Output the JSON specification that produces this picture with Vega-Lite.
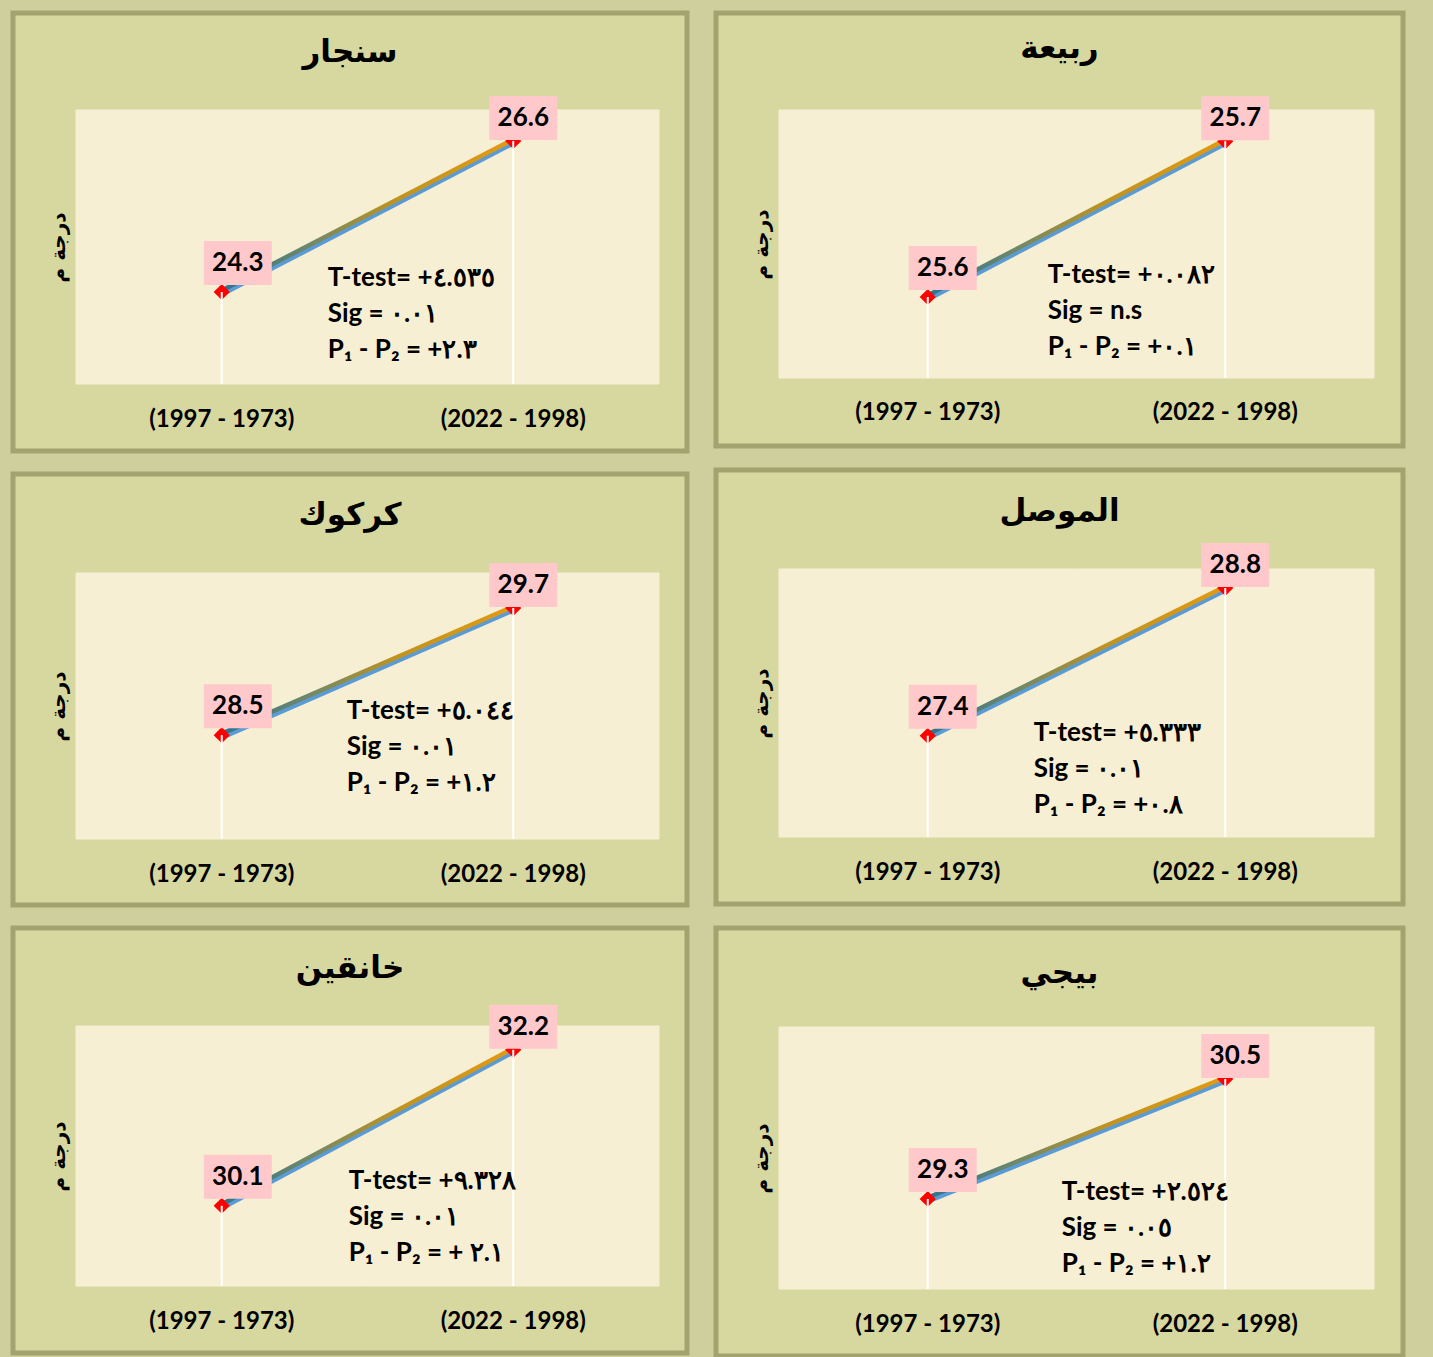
{
  "$schema": "https://vega.github.io/schema/vega-lite/v6.json",
  "background": "#CFCF9E",
  "padding": {"left": 10, "top": 10, "right": 30, "bottom": 0},
  "spacing": 23,
  "datasets": {
    "temps": [
      {"station": "سنجار", "period": "(1997 - 1973)", "temp": 24.3},
      {"station": "سنجار", "period": "(2022 - 1998)", "temp": 26.6},
      {"station": "ربيعة", "period": "(1997 - 1973)", "temp": 25.6},
      {"station": "ربيعة", "period": "(2022 - 1998)", "temp": 25.7},
      {"station": "كركوك", "period": "(1997 - 1973)", "temp": 28.5},
      {"station": "كركوك", "period": "(2022 - 1998)", "temp": 29.7},
      {"station": "الموصل", "period": "(1997 - 1973)", "temp": 27.4},
      {"station": "الموصل", "period": "(2022 - 1998)", "temp": 28.8},
      {"station": "خانقين", "period": "(1997 - 1973)", "temp": 30.1},
      {"station": "خانقين", "period": "(2022 - 1998)", "temp": 32.2},
      {"station": "بيجي", "period": "(1997 - 1973)", "temp": 29.3},
      {"station": "بيجي", "period": "(2022 - 1998)", "temp": 30.5}
    ],
    "notes": [
      {"station": "سنجار", "note": "T-test= +٤.٥٣٥\nSig = ٠.٠١\nP₁ - P₂ = +٢.٣"},
      {"station": "ربيعة", "note": "T-test=  +٠.٠٨٢\nSig = n.s\nP₁ - P₂ =  +٠.١"},
      {"station": "كركوك", "note": "T-test= +٥.٠٤٤\nSig = ٠.٠١\nP₁ - P₂ =  +١.٢"},
      {"station": "الموصل", "note": "T-test= +٥.٣٣٣\nSig = ٠.٠١\nP₁ - P₂ =  +٠.٨"},
      {"station": "خانقين", "note": "T-test=  +٩.٣٢٨\nSig = ٠.٠١\nP₁ - P₂ = + ٢.١"},
      {"station": "بيجي", "note": "T-test=  +٢.٥٢٤\nSig = ٠.٠٥\nP₁ - P₂ =  +١.٢"}
    ]
  },
  "hconcat": [
    {
      "spacing": 17,
      "vconcat": [
        {
          "width": 674, "height": 438,
          "title": {"text": "سنجار", "offset": -56},
          "data": {"name": "temps"},
          "transform": [{"filter": "datum.station == 'سنجار'"}],
          "encoding": {
            "x": {"field": "period", "type": "nominal", "sort": null, "scale": {"type": "band", "range": [63, 646], "paddingInner": 0, "paddingOuter": 0}, "axis": {"orient": "bottom", "offset": -67, "labelPadding": 35, "title": null}},
            "y": {"field": "temp", "type": "quantitative", "scale": {"domain": [22.9, 27.07], "range": [371, 97], "nice": false, "zero": false}, "axis": {"orient": "left", "offset": -63, "title": "درجة م"}}
          },
          "layer": [
            {"mark": {"type": "rect", "color": "#F7EFD3", "stroke": "#F7EFD3", "strokeWidth": 1}, "encoding": {"y": {"datum": 22.9}, "y2": {"datum": 27.07}}},
            {"mark": {"type": "line", "color": "#5B9BD5", "strokeWidth": 4.5, "yOffset": 2.5}},
            {"mark": {"type": "line", "strokeWidth": 4.5, "yOffset": -1.5, "stroke": {"gradient": "linear", "x1": 0, "y1": 0, "x2": 1, "y2": 0, "stops": [{"offset": 0, "color": "#2E7390"}, {"offset": 0.3, "color": "#6F8868"}, {"offset": 0.6, "color": "#C0931F"}, {"offset": 1, "color": "#E39A10"}]}}},
            {"mark": {"type": "point", "shape": "diamond", "filled": true, "color": "#FF0000", "size": 260, "opacity": 1}},
            {"mark": {"type": "rule", "color": "white", "strokeWidth": 2}, "encoding": {"y2": {"datum": 22.9}}},
            {"transform": [{"filter": "datum.period == '(1997 - 1973)'"}], "layer": [
              {"mark": {"type": "point", "shape": "M-1,-0.647L1,-0.647L1,0.647L-1,0.647Z", "size": 4624, "filled": true, "color": "#FFC9CC", "opacity": 1, "xOffset": 16, "yOffset": -29}},
              {"mark": {"type": "text", "font": "Lato", "fontSize": 26, "fontWeight": "bold", "color": "black", "xOffset": 16, "yOffset": -29}, "encoding": {"text": {"field": "temp", "type": "quantitative", "format": ".1f"}}},
              {"transform": [{"lookup": "station", "from": {"data": {"name": "notes"}, "key": "station", "fields": ["note"]}}],
               "mark": {"type": "text", "font": "Lato", "fontSize": 26, "fontWeight": "bold", "color": "black", "align": "left", "baseline": "middle", "lineHeight": 36, "lineBreak": "\n", "dx": 106},
               "encoding": {"y": {"datum": 24.513}, "text": {"field": "note", "type": "nominal"}}}
            ]},
            {"transform": [{"filter": "datum.period == '(2022 - 1998)'"}], "layer": [
              {"mark": {"type": "point", "shape": "M-1,-0.647L1,-0.647L1,0.647L-1,0.647Z", "size": 4624, "filled": true, "color": "#FFC9CC", "opacity": 1, "xOffset": 10, "yOffset": -23}},
              {"mark": {"type": "text", "font": "Lato", "fontSize": 26, "fontWeight": "bold", "color": "black", "xOffset": 10, "yOffset": -23}, "encoding": {"text": {"field": "temp", "type": "quantitative", "format": ".1f"}}}
            ]}
          ]
        },
        {
          "width": 674, "height": 431,
          "title": {"text": "كركوك", "offset": -58},
          "data": {"name": "temps"},
          "transform": [{"filter": "datum.station == 'كركوك'"}],
          "encoding": {
            "x": {"field": "period", "type": "nominal", "sort": null, "scale": {"type": "band", "range": [63, 646], "paddingInner": 0, "paddingOuter": 0}, "axis": {"orient": "bottom", "offset": -66, "labelPadding": 35, "title": null}},
            "y": {"field": "temp", "type": "quantitative", "scale": {"domain": [27.52, 30.03], "range": [365, 99], "nice": false, "zero": false}, "axis": {"orient": "left", "offset": -63, "title": "درجة م"}}
          },
          "layer": [
            {"mark": {"type": "rect", "color": "#F7EFD3", "stroke": "#F7EFD3", "strokeWidth": 1}, "encoding": {"y": {"datum": 27.52}, "y2": {"datum": 30.03}}},
            {"mark": {"type": "line", "color": "#5B9BD5", "strokeWidth": 4.5, "yOffset": 2.5}},
            {"mark": {"type": "line", "strokeWidth": 4.5, "yOffset": -1.5, "stroke": {"gradient": "linear", "x1": 0, "y1": 0, "x2": 1, "y2": 0, "stops": [{"offset": 0, "color": "#2E7390"}, {"offset": 0.3, "color": "#6F8868"}, {"offset": 0.6, "color": "#C0931F"}, {"offset": 1, "color": "#E39A10"}]}}},
            {"mark": {"type": "point", "shape": "diamond", "filled": true, "color": "#FF0000", "size": 260, "opacity": 1}},
            {"mark": {"type": "rule", "color": "white", "strokeWidth": 2}, "encoding": {"y2": {"datum": 27.52}}},
            {"transform": [{"filter": "datum.period == '(1997 - 1973)'"}], "layer": [
              {"mark": {"type": "point", "shape": "M-1,-0.647L1,-0.647L1,0.647L-1,0.647Z", "size": 4624, "filled": true, "color": "#FFC9CC", "opacity": 1, "xOffset": 16, "yOffset": -29}},
              {"mark": {"type": "text", "font": "Lato", "fontSize": 26, "fontWeight": "bold", "color": "black", "xOffset": 16, "yOffset": -29}, "encoding": {"text": {"field": "temp", "type": "quantitative", "format": ".1f"}}},
              {"transform": [{"lookup": "station", "from": {"data": {"name": "notes"}, "key": "station", "fields": ["note"]}}],
               "mark": {"type": "text", "font": "Lato", "fontSize": 26, "fontWeight": "bold", "color": "black", "align": "left", "baseline": "middle", "lineHeight": 36, "lineBreak": "\n", "dx": 125},
               "encoding": {"y": {"datum": 28.727}, "text": {"field": "note", "type": "nominal"}}}
            ]},
            {"transform": [{"filter": "datum.period == '(2022 - 1998)'"}], "layer": [
              {"mark": {"type": "point", "shape": "M-1,-0.647L1,-0.647L1,0.647L-1,0.647Z", "size": 4624, "filled": true, "color": "#FFC9CC", "opacity": 1, "xOffset": 10, "yOffset": -23}},
              {"mark": {"type": "text", "font": "Lato", "fontSize": 26, "fontWeight": "bold", "color": "black", "xOffset": 10, "yOffset": -23}, "encoding": {"text": {"field": "temp", "type": "quantitative", "format": ".1f"}}}
            ]}
          ]
        },
        {
          "width": 674, "height": 425,
          "title": {"text": "خانقين", "offset": -57},
          "data": {"name": "temps"},
          "transform": [{"filter": "datum.station == 'خانقين'"}],
          "encoding": {
            "x": {"field": "period", "type": "nominal", "sort": null, "scale": {"type": "band", "range": [63, 646], "paddingInner": 0, "paddingOuter": 0}, "axis": {"orient": "bottom", "offset": -67, "labelPadding": 35, "title": null}},
            "y": {"field": "temp", "type": "quantitative", "scale": {"domain": [29.02, 32.52], "range": [358, 98], "nice": false, "zero": false}, "axis": {"orient": "left", "offset": -63, "title": "درجة م"}}
          },
          "layer": [
            {"mark": {"type": "rect", "color": "#F7EFD3", "stroke": "#F7EFD3", "strokeWidth": 1}, "encoding": {"y": {"datum": 29.02}, "y2": {"datum": 32.52}}},
            {"mark": {"type": "line", "color": "#5B9BD5", "strokeWidth": 4.5, "yOffset": 2.5}},
            {"mark": {"type": "line", "strokeWidth": 4.5, "yOffset": -1.5, "stroke": {"gradient": "linear", "x1": 0, "y1": 0, "x2": 1, "y2": 0, "stops": [{"offset": 0, "color": "#2E7390"}, {"offset": 0.3, "color": "#6F8868"}, {"offset": 0.6, "color": "#C0931F"}, {"offset": 1, "color": "#E39A10"}]}}},
            {"mark": {"type": "point", "shape": "diamond", "filled": true, "color": "#FF0000", "size": 260, "opacity": 1}},
            {"mark": {"type": "rule", "color": "white", "strokeWidth": 2}, "encoding": {"y2": {"datum": 29.02}}},
            {"transform": [{"filter": "datum.period == '(1997 - 1973)'"}], "layer": [
              {"mark": {"type": "point", "shape": "M-1,-0.647L1,-0.647L1,0.647L-1,0.647Z", "size": 4624, "filled": true, "color": "#FFC9CC", "opacity": 1, "xOffset": 16, "yOffset": -29}},
              {"mark": {"type": "text", "font": "Lato", "fontSize": 26, "fontWeight": "bold", "color": "black", "xOffset": 16, "yOffset": -29}, "encoding": {"text": {"field": "temp", "type": "quantitative", "format": ".1f"}}},
              {"transform": [{"lookup": "station", "from": {"data": {"name": "notes"}, "key": "station", "fields": ["note"]}}],
               "mark": {"type": "text", "font": "Lato", "fontSize": 26, "fontWeight": "bold", "color": "black", "align": "left", "baseline": "middle", "lineHeight": 36, "lineBreak": "\n", "dx": 127},
               "encoding": {"y": {"datum": 30.436}, "text": {"field": "note", "type": "nominal"}}}
            ]},
            {"transform": [{"filter": "datum.period == '(2022 - 1998)'"}], "layer": [
              {"mark": {"type": "point", "shape": "M-1,-0.647L1,-0.647L1,0.647L-1,0.647Z", "size": 4624, "filled": true, "color": "#FFC9CC", "opacity": 1, "xOffset": 10, "yOffset": -23}},
              {"mark": {"type": "text", "font": "Lato", "fontSize": 26, "fontWeight": "bold", "color": "black", "xOffset": 10, "yOffset": -23}, "encoding": {"text": {"field": "temp", "type": "quantitative", "format": ".1f"}}}
            ]}
          ]
        }
      ]
    },
    {
      "spacing": 18,
      "vconcat": [
        {
          "width": 687, "height": 433,
          "title": {"text": "ربيعة", "offset": -52},
          "data": {"name": "temps"},
          "transform": [{"filter": "datum.station == 'ربيعة'"}],
          "encoding": {
            "x": {"field": "period", "type": "nominal", "sort": null, "scale": {"type": "band", "range": [63, 658], "paddingInner": 0, "paddingOuter": 0}, "axis": {"orient": "bottom", "offset": -68, "labelPadding": 34, "title": null}},
            "y": {"field": "temp", "type": "quantitative", "scale": {"domain": [25.548, 25.72], "range": [365, 97], "nice": false, "zero": false}, "axis": {"orient": "left", "offset": -63, "title": "درجة م"}}
          },
          "layer": [
            {"mark": {"type": "rect", "color": "#F7EFD3", "stroke": "#F7EFD3", "strokeWidth": 1}, "encoding": {"y": {"datum": 25.548}, "y2": {"datum": 25.72}}},
            {"mark": {"type": "line", "color": "#5B9BD5", "strokeWidth": 4.5, "yOffset": 2.5}},
            {"mark": {"type": "line", "strokeWidth": 4.5, "yOffset": -1.5, "stroke": {"gradient": "linear", "x1": 0, "y1": 0, "x2": 1, "y2": 0, "stops": [{"offset": 0, "color": "#2E7390"}, {"offset": 0.3, "color": "#6F8868"}, {"offset": 0.6, "color": "#C0931F"}, {"offset": 1, "color": "#E39A10"}]}}},
            {"mark": {"type": "point", "shape": "diamond", "filled": true, "color": "#FF0000", "size": 260, "opacity": 1}},
            {"mark": {"type": "rule", "color": "white", "strokeWidth": 2}, "encoding": {"y2": {"datum": 25.548}}},
            {"transform": [{"filter": "datum.period == '(1997 - 1973)'"}], "layer": [
              {"mark": {"type": "point", "shape": "M-1,-0.647L1,-0.647L1,0.647L-1,0.647Z", "size": 4624, "filled": true, "color": "#FFC9CC", "opacity": 1, "xOffset": 15, "yOffset": -29}},
              {"mark": {"type": "text", "font": "Lato", "fontSize": 26, "fontWeight": "bold", "color": "black", "xOffset": 15, "yOffset": -29}, "encoding": {"text": {"field": "temp", "type": "quantitative", "format": ".1f"}}},
              {"transform": [{"lookup": "station", "from": {"data": {"name": "notes"}, "key": "station", "fields": ["note"]}}],
               "mark": {"type": "text", "font": "Lato", "fontSize": 26, "fontWeight": "bold", "color": "black", "align": "left", "baseline": "middle", "lineHeight": 36, "lineBreak": "\n", "dx": 120},
               "encoding": {"y": {"datum": 25.6141}, "text": {"field": "note", "type": "nominal"}}}
            ]},
            {"transform": [{"filter": "datum.period == '(2022 - 1998)'"}], "layer": [
              {"mark": {"type": "point", "shape": "M-1,-0.647L1,-0.647L1,0.647L-1,0.647Z", "size": 4624, "filled": true, "color": "#FFC9CC", "opacity": 1, "xOffset": 10, "yOffset": -23}},
              {"mark": {"type": "text", "font": "Lato", "fontSize": 26, "fontWeight": "bold", "color": "black", "xOffset": 10, "yOffset": -23}, "encoding": {"text": {"field": "temp", "type": "quantitative", "format": ".1f"}}}
            ]}
          ]
        },
        {
          "width": 687, "height": 434,
          "title": {"text": "الموصل", "offset": -58},
          "data": {"name": "temps"},
          "transform": [{"filter": "datum.station == 'الموصل'"}],
          "encoding": {
            "x": {"field": "period", "type": "nominal", "sort": null, "scale": {"type": "band", "range": [63, 658], "paddingInner": 0, "paddingOuter": 0}, "axis": {"orient": "bottom", "offset": -67, "labelPadding": 35, "title": null}},
            "y": {"field": "temp", "type": "quantitative", "scale": {"domain": [26.44, 28.98], "range": [367, 99], "nice": false, "zero": false}, "axis": {"orient": "left", "offset": -63, "title": "درجة م"}}
          },
          "layer": [
            {"mark": {"type": "rect", "color": "#F7EFD3", "stroke": "#F7EFD3", "strokeWidth": 1}, "encoding": {"y": {"datum": 26.44}, "y2": {"datum": 28.98}}},
            {"mark": {"type": "line", "color": "#5B9BD5", "strokeWidth": 4.5, "yOffset": 2.5}},
            {"mark": {"type": "line", "strokeWidth": 4.5, "yOffset": -1.5, "stroke": {"gradient": "linear", "x1": 0, "y1": 0, "x2": 1, "y2": 0, "stops": [{"offset": 0, "color": "#2E7390"}, {"offset": 0.3, "color": "#6F8868"}, {"offset": 0.6, "color": "#C0931F"}, {"offset": 1, "color": "#E39A10"}]}}},
            {"mark": {"type": "point", "shape": "diamond", "filled": true, "color": "#FF0000", "size": 260, "opacity": 1}},
            {"mark": {"type": "rule", "color": "white", "strokeWidth": 2}, "encoding": {"y2": {"datum": 26.44}}},
            {"transform": [{"filter": "datum.period == '(1997 - 1973)'"}], "layer": [
              {"mark": {"type": "point", "shape": "M-1,-0.647L1,-0.647L1,0.647L-1,0.647Z", "size": 4624, "filled": true, "color": "#FFC9CC", "opacity": 1, "xOffset": 15, "yOffset": -29}},
              {"mark": {"type": "text", "font": "Lato", "fontSize": 26, "fontWeight": "bold", "color": "black", "xOffset": 15, "yOffset": -29}, "encoding": {"text": {"field": "temp", "type": "quantitative", "format": ".1f"}}},
              {"transform": [{"lookup": "station", "from": {"data": {"name": "notes"}, "key": "station", "fields": ["note"]}}],
               "mark": {"type": "text", "font": "Lato", "fontSize": 26, "fontWeight": "bold", "color": "black", "align": "left", "baseline": "middle", "lineHeight": 36, "lineBreak": "\n", "dx": 106},
               "encoding": {"y": {"datum": 27.428}, "text": {"field": "note", "type": "nominal"}}}
            ]},
            {"transform": [{"filter": "datum.period == '(2022 - 1998)'"}], "layer": [
              {"mark": {"type": "point", "shape": "M-1,-0.647L1,-0.647L1,0.647L-1,0.647Z", "size": 4624, "filled": true, "color": "#FFC9CC", "opacity": 1, "xOffset": 10, "yOffset": -23}},
              {"mark": {"type": "text", "font": "Lato", "fontSize": 26, "fontWeight": "bold", "color": "black", "xOffset": 10, "yOffset": -23}, "encoding": {"text": {"field": "temp", "type": "quantitative", "format": ".1f"}}}
            ]}
          ]
        },
        {
          "width": 687, "height": 428,
          "title": {"text": "بيجي", "offset": -62},
          "data": {"name": "temps"},
          "transform": [{"filter": "datum.station == 'بيجي'"}],
          "encoding": {
            "x": {"field": "period", "type": "nominal", "sort": null, "scale": {"type": "band", "range": [63, 658], "paddingInner": 0, "paddingOuter": 0}, "axis": {"orient": "bottom", "offset": -67, "labelPadding": 35, "title": null}},
            "y": {"field": "temp", "type": "quantitative", "scale": {"domain": [28.4, 31.02], "range": [361, 99], "nice": false, "zero": false}, "axis": {"orient": "left", "offset": -63, "title": "درجة م"}}
          },
          "layer": [
            {"mark": {"type": "rect", "color": "#F7EFD3", "stroke": "#F7EFD3", "strokeWidth": 1}, "encoding": {"y": {"datum": 28.4}, "y2": {"datum": 31.02}}},
            {"mark": {"type": "line", "color": "#5B9BD5", "strokeWidth": 4.5, "yOffset": 2.5}},
            {"mark": {"type": "line", "strokeWidth": 4.5, "yOffset": -1.5, "stroke": {"gradient": "linear", "x1": 0, "y1": 0, "x2": 1, "y2": 0, "stops": [{"offset": 0, "color": "#2E7390"}, {"offset": 0.3, "color": "#6F8868"}, {"offset": 0.6, "color": "#C0931F"}, {"offset": 1, "color": "#E39A10"}]}}},
            {"mark": {"type": "point", "shape": "diamond", "filled": true, "color": "#FF0000", "size": 260, "opacity": 1}},
            {"mark": {"type": "rule", "color": "white", "strokeWidth": 2}, "encoding": {"y2": {"datum": 28.4}}},
            {"transform": [{"filter": "datum.period == '(1997 - 1973)'"}], "layer": [
              {"mark": {"type": "point", "shape": "M-1,-0.647L1,-0.647L1,0.647L-1,0.647Z", "size": 4624, "filled": true, "color": "#FFC9CC", "opacity": 1, "xOffset": 15, "yOffset": -29}},
              {"mark": {"type": "text", "font": "Lato", "fontSize": 26, "fontWeight": "bold", "color": "black", "xOffset": 15, "yOffset": -29}, "encoding": {"text": {"field": "temp", "type": "quantitative", "format": ".1f"}}},
              {"transform": [{"lookup": "station", "from": {"data": {"name": "notes"}, "key": "station", "fields": ["note"]}}],
               "mark": {"type": "text", "font": "Lato", "fontSize": 26, "fontWeight": "bold", "color": "black", "align": "left", "baseline": "middle", "lineHeight": 36, "lineBreak": "\n", "dx": 134},
               "encoding": {"y": {"datum": 29.37}, "text": {"field": "note", "type": "nominal"}}}
            ]},
            {"transform": [{"filter": "datum.period == '(2022 - 1998)'"}], "layer": [
              {"mark": {"type": "point", "shape": "M-1,-0.647L1,-0.647L1,0.647L-1,0.647Z", "size": 4624, "filled": true, "color": "#FFC9CC", "opacity": 1, "xOffset": 10, "yOffset": -23}},
              {"mark": {"type": "text", "font": "Lato", "fontSize": 26, "fontWeight": "bold", "color": "black", "xOffset": 10, "yOffset": -23}, "encoding": {"text": {"field": "temp", "type": "quantitative", "format": ".1f"}}}
            ]}
          ]
        }
      ]
    }
  ],
  "config": {
    "view": {"fill": "#D7D7A0", "stroke": "#A3A36F", "strokeWidth": 5},
    "axis": {"grid": false, "domain": false, "ticks": false, "tickSize": 0, "labelColor": "black", "titleColor": "black"},
    "axisX": {"labelFont": "Lato", "labelFontSize": 24, "labelFontWeight": "bold", "labelBaseline": "middle", "labelAngle": 0},
    "axisY": {"labels": false, "titleFont": "DejaVu Sans", "titleFontSize": 20, "titleFontWeight": "bold", "titlePadding": 8},
    "title": {"font": "DejaVu Sans", "fontSize": 31, "fontWeight": "bold", "color": "black", "anchor": "middle", "baseline": "middle"}
  }
}
